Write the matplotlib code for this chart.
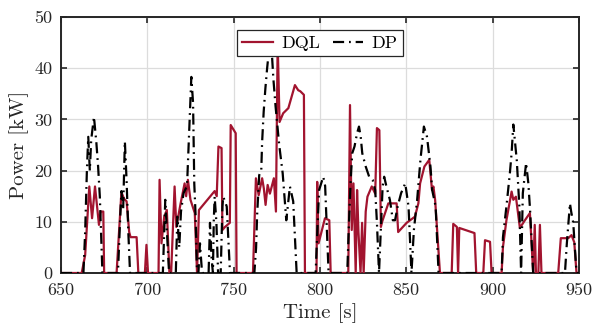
import matplotlib
matplotlib.use("Agg")
import matplotlib.pyplot as plt

# ---------------- data ----------------
dql_t = [650, 662, 664, 666.4, 668, 669.7, 672, 673, 674.5, 675,
         682.2, 685, 686.5, 688, 689.5, 690.3, 693.8, 694.8,
         698.6, 699.5, 700.4,
         706.5, 707.1, 708.2, 709.8, 711.3, 712.8, 713.8, 715.8, 716.8, 719.3, 721.6,
         722.5, 723.5, 725, 727.5, 728.8, 729.9, 739, 740.2, 741.2, 743, 743.5, 745,
         747.8, 748.3, 751.2, 751.7,
         761.2, 762.9, 764.5, 766.5, 767.5, 768.5, 769.7, 771, 773.3, 774.5, 775.5,
         776.6, 778.7, 781.7, 785.5, 787.4, 788.6, 790.7, 791.3,
         798, 798.4, 799.2, 802.9, 805.4, 806.2,
         816.4, 817.4, 818.4, 819.4, 820.7, 821.5, 822.3, 823.5, 824.4, 825.3,
         826.5, 827.5, 830, 832, 833, 834.4, 835.3, 836, 839.6, 844.4, 845.3,
         850.2, 855, 857, 858, 860.5, 863.3, 864.9, 865.7, 866.7, 869.5,
         876.3, 877.2, 879.3, 880, 880.7, 889.5, 890.5,
         894.6, 895.6, 898.5, 899.4,
         905.2, 906, 908, 911, 912, 913.5, 915.8, 918.7, 921.6, 923.5,
         924.4, 925.1, 926.5, 927.4, 928.3,
         938, 939.5, 943.8, 945.7, 947.3, 948.6, 950]
dql_p = [0, 0, 3.5, 16.9, 10.7, 16.9, 9.4, 12, 12, 0,
         0, 15.8, 14.5, 14, 8, 7, 7, 0,
         0, 5.5, 0,
         0, 18.2, 5.8, 11, 12.3, 0, 0, 16.9, 9, 13.6, 17.5,
         15, 18.2, 14.3, 11.7, 0, 12.3, 16, 15, 24.7, 24.4, 8.4, 9,
         9.8, 28.9, 27.3, 0,
         0, 18.5, 15.2, 18.5, 16.5, 13.3, 17.2, 15.5, 18.5, 12, 45,
         29.5, 31.2, 32.2, 36.7, 35.7, 35.5, 34.8, 0,
         0, 17.8, 5.8, 10.7, 10.3, 0,
         0, 32.8, 8.4, 17.5, 0, 16.2, 8, 0, 9.8, 0,
         12, 14.9, 16.9, 15.5, 28.3, 27.9, 9, 10, 13.6, 13.6, 8,
         9.8, 11, 13.6, 17.5, 20.8, 22.1, 16.2, 16.9, 14.3, 0,
         0, 9.6, 9, 0, 8.8, 7.8, 0,
         0, 6.4, 6.1, 0,
         0, 5.1, 10.3, 15.9, 14.3, 14.9, 8.8, 10.3, 11.7, 0,
         9.4, 0, 0, 9.4, 0,
         0, 6.8, 6.8, 7.4, 6, 0, 0]

dp_t = [650, 663, 664, 665, 665.8, 666.7, 667.5, 669.1, 670.5, 671.5, 672.5, 674,
        683, 684.2, 685, 686, 687, 688, 689, 690,
        709, 710.4, 711.2, 712.6,
        716.5, 717.4, 718.5, 719.5, 721, 723, 724, 724.7, 725.5, 726.5, 727.2, 728, 728.8,
        729.6, 730.5, 731.5, 732,
        735.5, 736.3, 737.2, 738, 738.5, 739, 740, 741, 742.5, 743.5, 744, 746, 747.9,
        762, 763, 763.6, 764.8, 766, 766.5, 767.4, 768.4, 769.4, 770.3, 771.2, 772.3,
        773, 774.3, 776.4, 778.4, 780.5, 782.6, 784.5, 786.5,
        797.5, 798.5, 799.5, 801.9, 803, 804, 805,
        815.8, 816.8, 817.8, 818.7, 820, 821.5, 822.6, 823.6, 824.5, 826.5, 828.5,
        830.5, 832, 833, 834.2, 836.3, 837.2, 838.5, 840.5, 842.2, 843.5, 845, 847,
        849.4, 851.3, 853, 854.4, 856.3, 858.2, 860.2, 862, 864, 865, 867, 868.7,
        905.2, 906, 908, 910, 911, 912, 914, 915.5, 916.5, 917.5, 919.4, 920.7, 921.7, 923.5,
        941.9, 943, 944.8, 945.5, 946.7, 948.6, 950]
dp_p = [0, 0, 8, 20, 26.6, 20, 26, 30.5, 25.4, 20.8, 14.9, 0,
        0, 10, 16, 12.3, 25.7, 18, 8, 0,
        0, 14.3, 9, 0,
        0, 11, 5, 12, 15.6, 17, 25.4, 31.8, 38.3, 33.2, 17.5, 11, 0,
        0, 5.8, 1, 0,
        0, 9.8, 3, 0, 10.3, 14.9, 10, 0, 0, 13, 14.9, 13, 0,
        0, 4.9, 11.3, 19.1, 20, 25.6, 31.5, 36.1, 40, 43, 45, 42,
        38, 32.5, 25, 19.5, 10.3, 16.9, 14, 0,
        0, 8.4, 16.2, 18.8, 17, 8.4, 0,
        0, 9.8, 18.2, 23.4, 24.7, 27.3, 28.6, 26.6, 23.4, 20.8, 18.8,
        18.2, 16.2, 9.8, 0, 16.9, 18.8, 16.9, 14.3, 10.3, 10.3, 13, 15.6,
        17.5, 13, 0, 8.4, 14.3, 22.1, 28.6, 26.6, 20.8, 16.2, 13, 0,
        0, 7, 13, 19.5, 23.4, 29, 22, 13, 0, 15.6, 21.5, 17.5, 12.3, 0,
        0, 5.8, 13.6, 12, 9.8, 0, 0]

x_ticks = [650, 700, 750, 800, 850, 900, 950]
y_ticks = [0, 10, 20, 30, 40, 50]

# ---------------- style ----------------
plt.rcParams['font.family'] = ['cmr10', 'DejaVu Serif']
plt.rcParams['mathtext.fontset'] = 'cm'
plt.rcParams['axes.unicode_minus'] = False
plt.rcParams['axes.formatter.use_mathtext'] = True

fig = plt.figure(figsize=(5.95, 3.30), dpi=100)
ax = fig.add_axes([0.1025, 0.1727, 0.8705, 0.7758])

ax.plot(dql_t, dql_p, color='#A2142F', lw=1.6, label='DQL', zorder=3)
ax.plot(dp_t, dp_p, color='black', lw=1.6, linestyle=(0, (5, 2.2, 0.8, 2.2)),
        label='DP', zorder=4)

ax.set_xlim(650, 950)
ax.set_ylim(0, 50)
ax.set_xticks(x_ticks)
ax.set_yticks(y_ticks)
ax.set_xticklabels([str(v) for v in x_ticks])
ax.set_yticklabels([str(v) for v in y_ticks])
ax.grid(True, color='#dcdcdc', lw=0.9)
ax.set_axisbelow(True)
ax.tick_params(direction='in', top=True, right=True, length=4, width=1.2,
               labelsize=13, colors='#262626')
ax.tick_params(axis='x', pad=7)
ax.tick_params(axis='y', pad=6)
for s in ax.spines.values():
    s.set_linewidth(1.4)
    s.set_color('#262626')

ax.set_xlabel('Time [s]', fontsize=15, color='#262626', labelpad=4)
ax.set_ylabel('Power [kW]', fontsize=15, color='#262626', labelpad=4)

leg = ax.legend(loc='upper center', bbox_to_anchor=(0.5, 0.95), ncol=2,
                fontsize=13, frameon=True, fancybox=False, framealpha=1,
                edgecolor='#262626', borderaxespad=0, handlelength=1.7,
                columnspacing=0.7, handletextpad=0.45, borderpad=0.3)
leg.get_frame().set_linewidth(0.9)
leg.set_zorder(10)

fig.savefig('out.png', dpi=100)
